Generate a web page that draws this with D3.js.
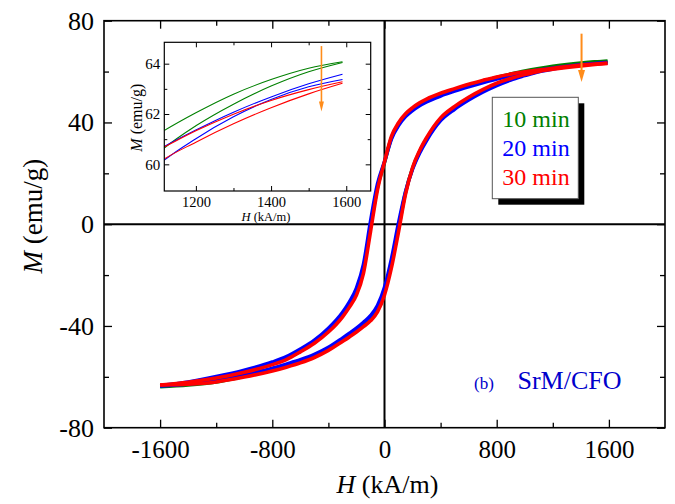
<!DOCTYPE html>
<html>
<head>
<meta charset="utf-8">
<script src="https://cdn.jsdelivr.net/npm/d3@7"></script>
<style>
  body { margin: 0; background: #fff; }
  svg { font-family: 'Liberation Serif', 'Times New Roman', serif; }
  .tick line { stroke: #000; stroke-width: 1.3; }
</style>
</head>
<body>
<svg width="675" height="504"></svg>
<script>
// applied field H (kA/m), shared by every branch
const fieldH = [-1600, -1400, -1200, -1000, -800, -700, -600, -500, -400, -300, -250, -200, -150, -100, -50,
  0, 50, 100, 150, 200, 250, 300, 400, 500, 600, 700, 800, 900, 1000, 1100, 1200, 1300, 1400, 1500, 1590];

// M (emu/g), descending branch (upper) and ascending branch (lower)
const m10Desc = [-63.6, -62.3, -60.4, -58.0, -54.9, -52.8, -49.8, -46.3, -41.8, -35.8, -31.8, -26.8, -17.8, -1.0, 14.5,
  24.3, 34.0, 39.3, 42.9, 45.3, 47.2, 48.7, 51.0, 52.9, 54.6, 56.2, 57.7, 59.0, 60.2, 61.2, 62.05, 62.79, 63.37, 63.82, 64.08];
const m10Asc = [-63.9, -63.2, -62.0, -59.8, -57.2, -55.6, -53.9, -51.8, -49.0, -45.5, -43.7, -41.8, -39.6, -37.2, -33.5,
  -26.5, -15.5, -1.5, 12.5, 22.0, 28.5, 33.5, 41.3, 45.8, 49.4, 52.5, 55.1, 57.2, 58.9, 60.45, 61.53, 62.39, 63.11, 63.68, 64.05];

const m20Desc = [-63.4, -62.0, -59.9, -57.4, -54.2, -52.1, -49.1, -45.6, -40.9, -34.7, -30.5, -25.1, -15.8, 1.0, 15.8,
  24.6, 33.6, 38.8, 42.3, 44.7, 46.6, 48.1, 50.4, 52.3, 54.0, 55.6, 57.1, 58.4, 59.6, 60.57, 61.36, 62.07, 62.68, 63.20, 63.58];
const m20Asc = [-63.6, -62.8, -61.5, -59.2, -56.6, -55.0, -53.3, -51.2, -48.4, -44.8, -42.9, -40.9, -38.6, -36.0, -32.0,
  -24.8, -13.5, 0.5, 12.8, 21.6, 27.9, 32.9, 40.7, 45.2, 48.8, 51.9, 54.5, 56.7, 58.4, 59.97, 61.02, 61.89, 62.58, 63.08, 63.37];

const m30Desc = [-63.2, -62.1, -60.5, -58.2, -55.2, -53.2, -50.2, -46.8, -42.4, -36.5, -32.6, -27.9, -19.3, -3.0, 13.5,
  24.5, 34.6, 39.9, 43.4, 45.8, 47.7, 49.2, 51.5, 53.3, 55.0, 56.5, 57.9, 59.0, 59.9, 60.57, 61.33, 61.99, 62.54, 62.97, 63.28];
const m30Asc = [-63.2, -62.9, -62.0, -60.1, -57.7, -56.2, -54.5, -52.4, -49.6, -46.1, -44.3, -42.4, -40.3, -38.0, -34.5,
  -27.8, -17.0, -3.0, 11.8, 22.2, 28.9, 34.0, 41.8, 46.3, 49.9, 52.9, 55.4, 57.3, 58.8, 60.06, 60.88, 61.61, 62.25, 62.80, 63.22];

const seriesLabels = ['10 min', '20 min', '30 min'];
const seriesColors = ['#008000', '#0000ff', '#ff0000'];

const xTicks = [-1600, -800, 0, 800, 1600];
const xMinorTicks = [-1200, -400, 400, 1200];
const yTicks = [-80, -40, 0, 40, 80];
const yMinorTicks = [-60, -20, 20, 60];

const insetXTicks = [1200, 1400, 1600];
const insetXMinorTicks = [1300, 1500];
const insetYTicks = [60, 62, 64];
const insetYMinorTicks = [61, 63];

const svg = d3.select('svg');
const width = +svg.attr('width');
const height = +svg.attr('height');

const series = [
  { label: seriesLabels[0], color: seriesColors[0], desc: m10Desc, asc: m10Asc },
  { label: seriesLabels[1], color: seriesColors[1], desc: m20Desc, asc: m20Asc },
  { label: seriesLabels[2], color: seriesColors[2], desc: m30Desc, asc: m30Asc }
];

const toPoints = (ms) => fieldH.map((h, i) => ({ h: h, m: ms[i] }));
const plainNum = (d) => String(d); // hyphen minus, like the original

// tick labels in the page font, not the axis default
const styleTicks = (axisG, size) => {
  axisG.attr('font-family', null).attr('font-size', null);
  axisG.selectAll('text').attr('font-size', size).attr('fill', '#000');
};

// draws a small arrow pointing down, in plot coordinates
const drawArrow = (g, x, y0, y1, headW, headH, lw) => {
  const color = '#ff8c1a';
  g.append('line')
    .attr('x1', x).attr('x2', x)
    .attr('y1', y0).attr('y2', y1 - headH + 1)
    .attr('stroke', color)
    .attr('stroke-width', lw);
  g.append('path')
    .attr('d', `M${x - headW / 2},${y1 - headH} L${x + headW / 2},${y1 - headH} L${x},${y1} Z`)
    .attr('fill', color);
};

const render = () => {
  const margin = { top: 20.7, left: 104, right: 10, bottom: 76.3 };
  const innerWidth = width - margin.left - margin.right;
  const innerHeight = height - margin.top - margin.bottom;

  const xScale = d3.scaleLinear().domain([-2000, 2000]).range([0, innerWidth]);
  const yScale = d3.scaleLinear().domain([-80, 80]).range([innerHeight, 0]);

  const g = svg.append('g')
    .attr('transform', `translate(${margin.left}, ${margin.top})`);

  // ticks: all inward, on four sides
  const bottomG = g.append('g')
    .attr('transform', `translate(0, ${innerHeight})`)
    .call(d3.axisBottom(xScale).tickValues(xTicks).tickSize(-8).tickPadding(13).tickFormat(plainNum));
  styleTicks(bottomG, 25);
  g.append('g')
    .attr('transform', `translate(0, ${innerHeight})`)
    .call(d3.axisBottom(xScale).tickValues(xMinorTicks).tickSize(-5).tickFormat(''));
  g.append('g').call(d3.axisTop(xScale).tickValues(xTicks).tickSize(-8).tickFormat(''));
  g.append('g').call(d3.axisTop(xScale).tickValues(xMinorTicks).tickSize(-5).tickFormat(''));

  const leftG = g.append('g')
    .call(d3.axisLeft(yScale).tickValues(yTicks).tickSize(-8).tickPadding(10).tickFormat(plainNum));
  styleTicks(leftG, 26);
  g.append('g').call(d3.axisLeft(yScale).tickValues(yMinorTicks).tickSize(-5).tickFormat(''));
  g.append('g')
    .attr('transform', `translate(${innerWidth}, 0)`)
    .call(d3.axisRight(yScale).tickValues(yTicks).tickSize(-8).tickFormat(''));
  g.append('g')
    .attr('transform', `translate(${innerWidth}, 0)`)
    .call(d3.axisRight(yScale).tickValues(yMinorTicks).tickSize(-5).tickFormat(''));
  g.selectAll('.domain').remove();

  g.append('rect')
    .attr('width', innerWidth)
    .attr('height', innerHeight)
    .attr('fill', 'none')
    .attr('stroke', '#000')
    .attr('stroke-width', 1.6);

  // zero lines
  g.append('line')
    .attr('x1', 0).attr('x2', innerWidth)
    .attr('y1', yScale(0)).attr('y2', yScale(0))
    .attr('stroke', '#000').attr('stroke-width', 2);
  g.append('line')
    .attr('x1', xScale(0)).attr('x2', xScale(0))
    .attr('y1', 0).attr('y2', innerHeight)
    .attr('stroke', '#000').attr('stroke-width', 2);

  // axis titles
  const xTitle = g.append('text')
    .attr('x', innerWidth / 2 + 3)
    .attr('y', innerHeight + 65)
    .attr('text-anchor', 'middle')
    .attr('font-size', 26);
  xTitle.append('tspan').attr('font-style', 'italic').text('H');
  xTitle.append('tspan').text(' (kA/m)');

  const yTitle = g.append('text')
    .attr('transform', `translate(${42 - margin.left}, ${innerHeight / 2 - 8}) rotate(-90)`)
    .attr('text-anchor', 'middle')
    .attr('font-size', 27);
  yTitle.append('tspan').attr('font-style', 'italic').text('M');
  yTitle.append('tspan').text(' (emu/g)');

  // hysteresis loops
  const line = d3.line()
    .x((d) => xScale(d.h))
    .y((d) => yScale(d.m))
    .curve(d3.curveMonotoneX);

  series.forEach((s) => {
    [s.desc, s.asc].forEach((ms) => {
      g.append('path')
        .datum(toPoints(ms))
        .attr('d', line)
        .attr('fill', 'none')
        .attr('stroke', s.color)
        .attr('stroke-width', 3.6);
    });
  });

  // legend with drop shadow
  const legend = g.append('g')
    .attr('transform', `translate(${492.3 - margin.left}, ${97.3 - margin.top})`);
  legend.append('rect')
    .attr('x', 6).attr('y', 6)
    .attr('width', 86).attr('height', 101.4)
    .attr('fill', '#000');
  legend.append('rect')
    .attr('width', 86).attr('height', 101.4)
    .attr('fill', '#fff')
    .attr('stroke', '#555')
    .attr('stroke-width', 1);
  legend.selectAll('text.leg')
    .data(series)
    .enter()
    .append('text')
    .attr('class', 'leg')
    .attr('x', 10)
    .attr('y', (d, i) => 29.4 + i * 29.2)
    .attr('font-size', 24)
    .attr('fill', (d) => d.color)
    .text((d) => d.label);

  // main arrow
  drawArrow(g, xScale(1405), yScale(74.9), yScale(55.9), 7, 12, 2);

  // sample label
  g.append('text')
    .attr('x', 474 - margin.left)
    .attr('y', 389 - margin.top)
    .attr('font-size', 17)
    .attr('fill', '#0000cc')
    .text('(b)');
  g.append('text')
    .attr('x', 517.5 - margin.left)
    .attr('y', 389 - margin.top)
    .attr('font-size', 26)
    .attr('fill', '#0000cc')
    .text('SrM/CFO');

  renderInset();
};

const renderInset = () => {
  const box = { left: 164.3, top: 42.3, width: 206.4, height: 148.7 };

  const xScale = d3.scaleLinear().domain([1116, 1665]).range([0, box.width]);
  const yScale = d3.scaleLinear().domain([58.94, 64.85]).range([box.height, 0]);

  const g = svg.append('g')
    .attr('transform', `translate(${box.left}, ${box.top})`);

  g.append('rect')
    .attr('width', box.width)
    .attr('height', box.height)
    .attr('fill', '#fff');

  svg.append('defs').append('clipPath')
    .attr('id', 'inset-clip')
    .append('rect')
    .attr('width', box.width)
    .attr('height', box.height);

  const line = d3.line()
    .x((d) => xScale(d.h))
    .y((d) => yScale(d.m))
    .curve(d3.curveMonotoneX);

  const curves = g.append('g').attr('clip-path', 'url(#inset-clip)');
  series.forEach((s) => {
    [s.desc, s.asc].forEach((ms) => {
      curves.append('path')
        .datum(toPoints(ms).filter((d) => d.h >= 1000))
        .attr('d', line)
        .attr('fill', 'none')
        .attr('stroke', s.color)
        .attr('stroke-width', 1.1);
    });
  });

  const bottomG = g.append('g')
    .attr('transform', `translate(0, ${box.height})`)
    .call(d3.axisBottom(xScale).tickValues(insetXTicks).tickSize(-5).tickPadding(6).tickFormat(plainNum));
  styleTicks(bottomG, 14.5);
  g.append('g')
    .attr('transform', `translate(0, ${box.height})`)
    .call(d3.axisBottom(xScale).tickValues(insetXMinorTicks).tickSize(-3).tickFormat(''));
  g.append('g').call(d3.axisTop(xScale).tickValues(insetXTicks).tickSize(-5).tickFormat(''));
  g.append('g').call(d3.axisTop(xScale).tickValues(insetXMinorTicks).tickSize(-3).tickFormat(''));

  const leftG = g.append('g')
    .call(d3.axisLeft(yScale).tickValues(insetYTicks).tickSize(-5).tickPadding(4).tickFormat(plainNum));
  styleTicks(leftG, 15);
  g.append('g').call(d3.axisLeft(yScale).tickValues(insetYMinorTicks).tickSize(-3).tickFormat(''));
  g.append('g')
    .attr('transform', `translate(${box.width}, 0)`)
    .call(d3.axisRight(yScale).tickValues(insetYTicks).tickSize(-5).tickFormat(''));
  g.append('g')
    .attr('transform', `translate(${box.width}, 0)`)
    .call(d3.axisRight(yScale).tickValues(insetYMinorTicks).tickSize(-3).tickFormat(''));
  g.selectAll('.domain').remove();
  g.selectAll('.tick line').style('stroke-width', 1);

  g.append('rect')
    .attr('width', box.width)
    .attr('height', box.height)
    .attr('fill', 'none')
    .attr('stroke', '#000')
    .attr('stroke-width', 1.2);

  const xTitle = g.append('text')
    .attr('x', 266 - box.left)
    .attr('y', 221.5 - box.top)
    .attr('text-anchor', 'middle')
    .attr('font-size', 12.5);
  xTitle.append('tspan').attr('font-style', 'italic').text('H');
  xTitle.append('tspan').text(' (kA/m)');

  const yTitle = g.append('text')
    .attr('transform', `translate(${142 - box.left}, ${box.height / 2 + 1}) rotate(-90)`)
    .attr('text-anchor', 'middle')
    .attr('font-size', 16);
  yTitle.append('tspan').attr('font-style', 'italic').text('M');
  yTitle.append('tspan').text(' (emu/g)');

  drawArrow(g, xScale(1534), yScale(64.7), yScale(62.1), 5, 10, 1.6);
};

render();
</script>
</body>
</html>
